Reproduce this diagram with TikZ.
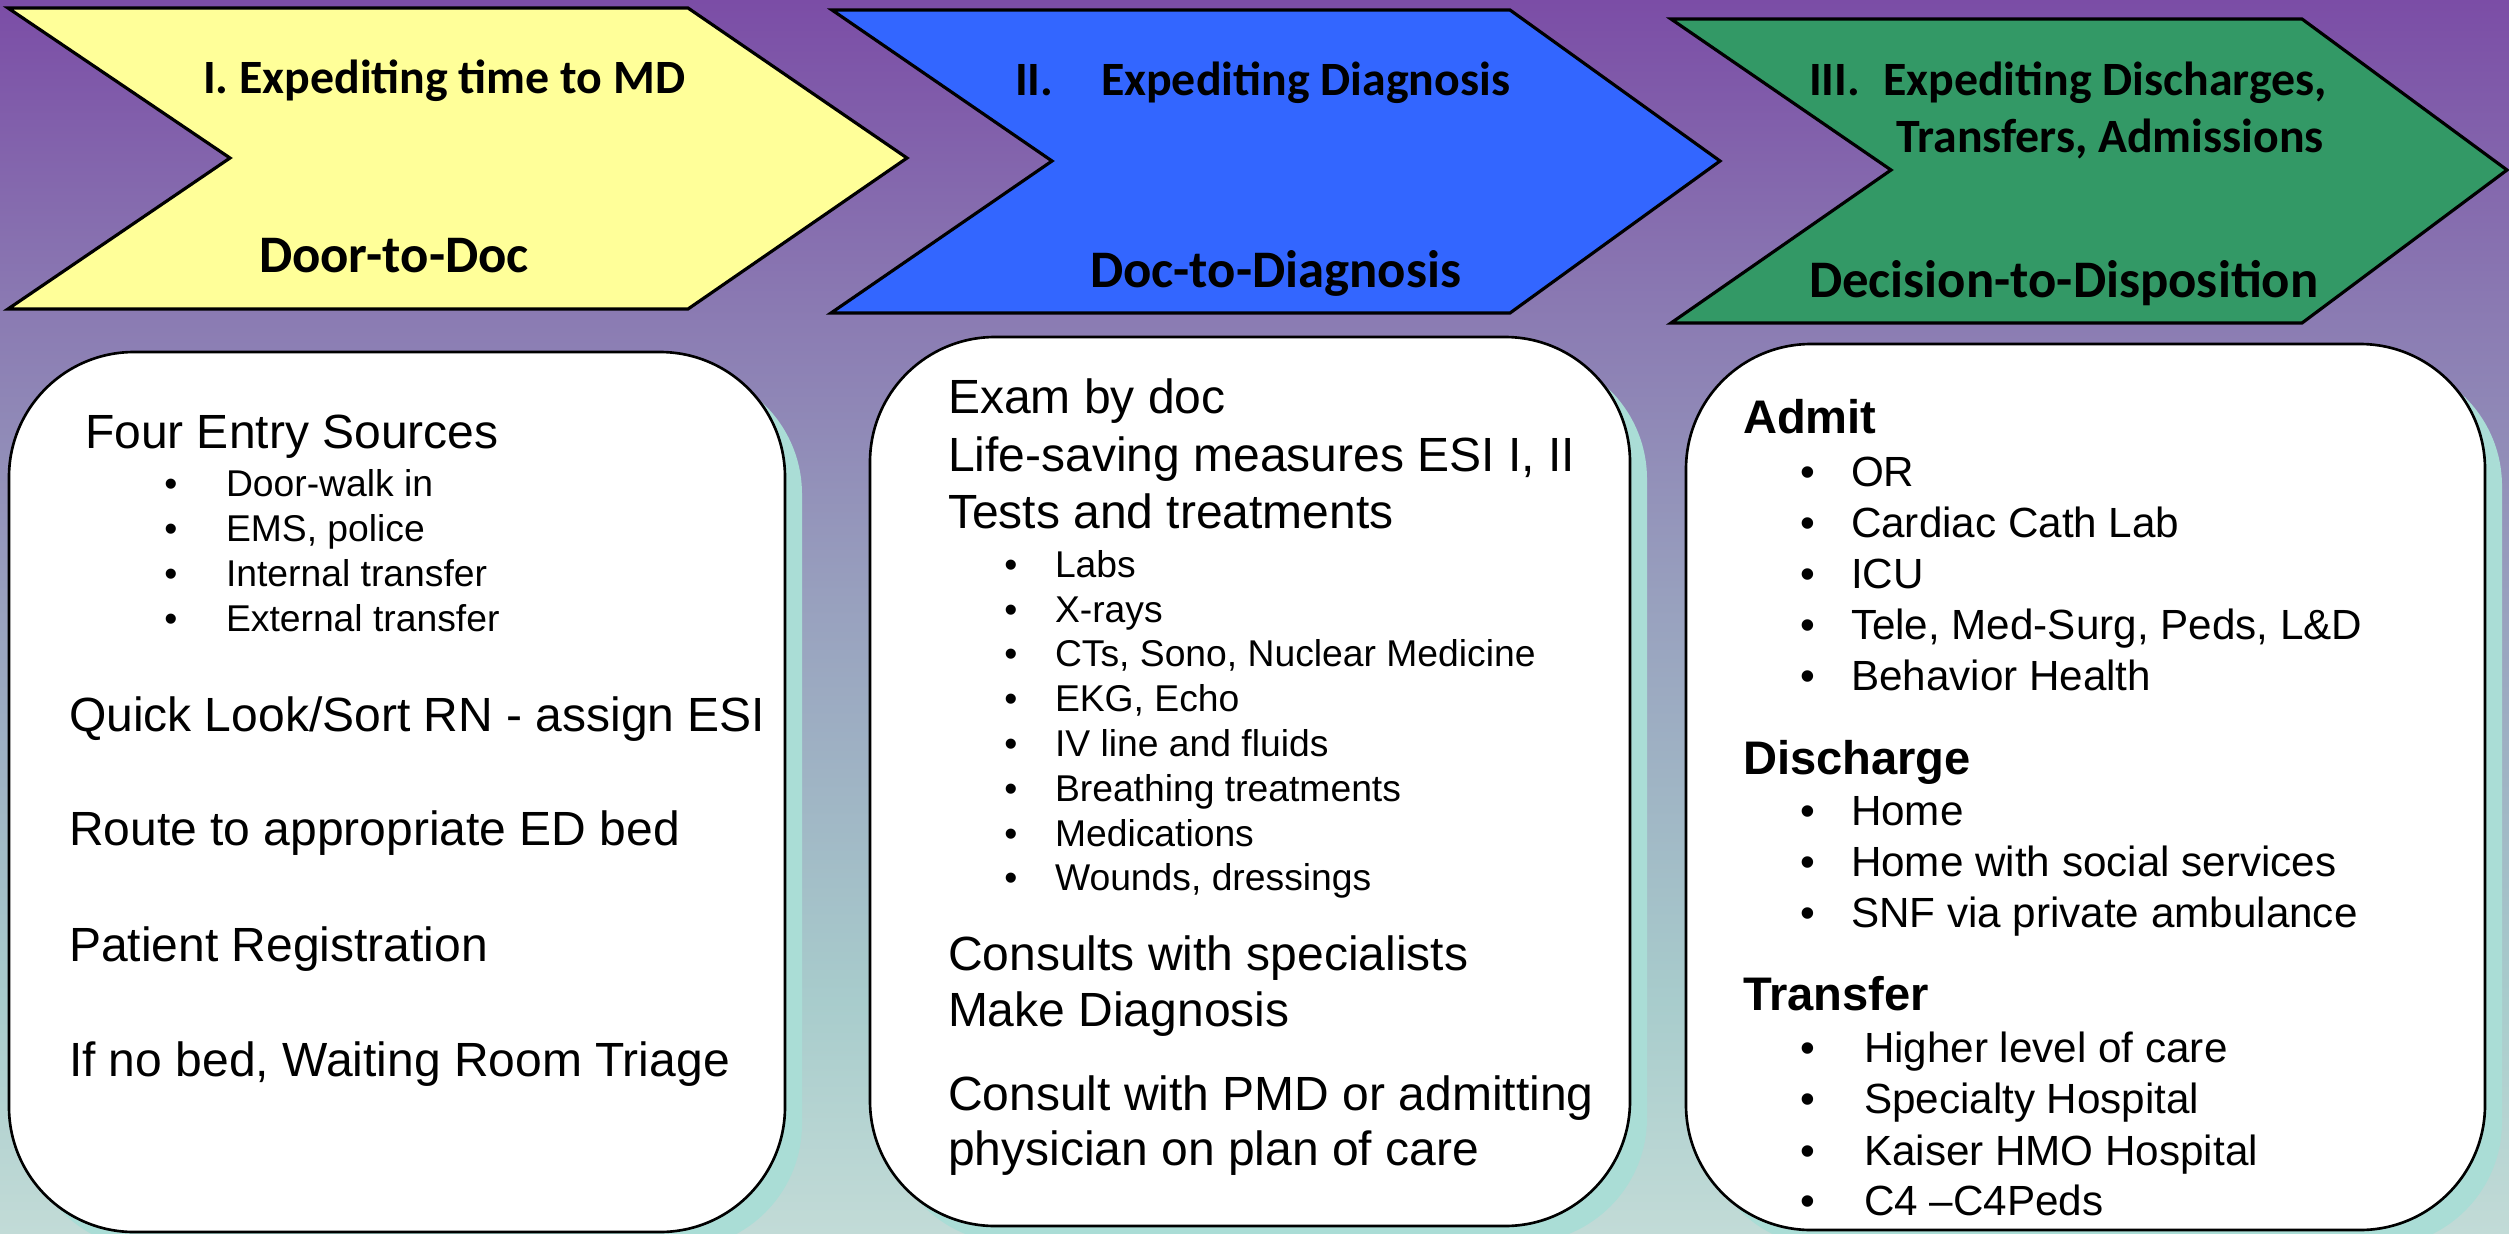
\documentclass[tikz,border=0pt]{standalone}
\usepackage{fontspec}
\setmainfont{Liberation Sans}
\newfontfamily\headfont{Carlito}
\definecolor{bgA}{RGB}{123,77,166}
\definecolor{bgB}{RGB}{138,121,178}
\definecolor{bgC}{RGB}{152,160,190}
\definecolor{bgD}{RGB}{168,204,204}
\definecolor{bgE}{RGB}{194,219,215}
\definecolor{chevYellow}{RGB}{255,255,153}
\definecolor{chevBlue}{RGB}{51,102,255}
\definecolor{chevGreen}{RGB}{51,153,102}
\definecolor{shadowTeal}{RGB}{170,221,214}
\pgfdeclareverticalshading{backdrop}{100bp}{color(0bp)=(bgE); color(25bp)=(bgE); color(34.4bp)=(bgD); color(50.7bp)=(bgC); color(62.8bp)=(bgB); color(75bp)=(bgA); color(100bp)=(bgA)}
\begin{document}
\begin{tikzpicture}[x=0.01cm,y=-0.01cm,
  chev/.style={draw=black, line width=0.9pt, line join=miter},
  panel/.style={draw=black, fill=white, line width=0.75pt, rounded corners=1.25cm},
  panelshadow/.style={fill=shadowTeal, rounded corners=1.25cm},
  txt/.style={anchor=base west, inner sep=0pt, outer sep=0pt},
  maintxt/.style={txt, font=\fontsize{13.65pt}{16.4pt}\selectfont},
  itemtxt/.style={txt, font=\fontsize{10.6pt}{12.7pt}\selectfont},
  itemdot/.style={anchor=base, inner sep=0pt, outer sep=0pt, font=\fontsize{10.6pt}{12.7pt}\selectfont},
  grouptxt/.style={txt, font=\fontsize{13.4pt}{16pt}\selectfont\bfseries},
  listtxt/.style={txt, font=\fontsize{12pt}{14.4pt}\selectfont},
  listdot/.style={anchor=base, inner sep=0pt, outer sep=0pt, font=\fontsize{12pt}{14.4pt}\selectfont},
  chevtitle/.style={txt, font=\headfont\bfseries\fontsize{13.6pt}{16.3pt}\selectfont},
  chevlabel/.style={txt, font=\headfont\bfseries\fontsize{15pt}{18pt}\selectfont}]

\useasboundingbox (0,0) rectangle (2509,1233);
\clip (0,0) rectangle (2509,1233);

% backdrop
\shade[shading=backdrop] (0,0) rectangle (2509,1233);

% stage chevrons
\draw[chev, fill=chevYellow] (8,8) -- (688,8) -- (907,158) -- (688,309) -- (8,309) -- (230,158) -- cycle;
\draw[chev, fill=chevBlue] (832,10) -- (1510,10) -- (1720,161) -- (1510,313) -- (831,313) -- (1052,161) -- cycle;
\draw[chev, fill=chevGreen] (1671,19) -- (2302,19) -- (2507,170) -- (2302,323) -- (1671,323) -- (1891,170) -- cycle;

\node[chevtitle] (h1) at (203,93) {I. Expediting time to MD};
\node[chevlabel] (s1) at (259,272) {Door-to-Doc};
\node[chevtitle] (h2n) at (1015,95) {II.};
\node[chevtitle] (h2) at (1101,95) {Expediting Diagnosis};
\node[chevlabel] (s2) at (1090,287) {Doc-to-Diagnosis};
\node[chevtitle] (h3n) at (1809,95) {III.};
\node[chevtitle] (h3) at (1883,95) {Expediting Discharges,};
\node[chevtitle, anchor=base east] (h3b) at (2324,152) {Transfers, Admissions};
\node[chevlabel] (s3) at (1809,297) {Decision-to-Disposition};

% content panels with offset shadows
\fill[panelshadow] (26,369) rectangle (802,1249);
\fill[panelshadow] (887,354) rectangle (1647,1243);
\fill[panelshadow] (1703,361) rectangle (2502,1247);
\draw[panel] (9,352) rectangle (785,1232);
\draw[panel] (870,337) rectangle (1630,1226);
\draw[panel] (1686,344) rectangle (2485,1230);

% panel I
\node[maintxt] (p1a) at (85,448) {Four Entry Sources};
\foreach \yy/\tt [count=\i] in {496/Door-walk in, 541/{EMS, police}, 586/Internal transfer, 631/External transfer}{
  \node[itemdot] (p1d\i) at (171,\yy) {•};
  \node[itemtxt] (p1i\i) at (226,\yy) {\tt};
}
\node[maintxt] (p1b) at (69,731) {Quick Look/Sort RN - assign ESI};
\node[maintxt] (p1c) at (69,845) {Route to appropriate ED bed};
\node[maintxt] (p1e) at (69,961) {Patient Registration};
\node[maintxt] (p1f) at (69,1076) {If no bed, Waiting Room Triage};

% panel II
\node[maintxt] (p2a) at (948,413) {Exam by doc};
\node[maintxt] (p2b) at (948,471) {Life-saving measures ESI I, II};
\node[maintxt] (p2c) at (948,528) {Tests and treatments};
\foreach \yy/\tt [count=\i] in {577/Labs, 622/X-rays, 666/{CTs, Sono, Nuclear Medicine}, 711/{EKG, Echo}, 756/IV line and fluids, 801/Breathing treatments, 846/Medications, 890/{Wounds, dressings}}{
  \node[itemdot] (p2d\i) at (1011,\yy) {•};
  \node[itemtxt] (p2i\i) at (1055,\yy) {\tt};
}
\node[maintxt] (p2e) at (948,970) {Consults with specialists};
\node[maintxt] (p2f) at (948,1026) {Make Diagnosis};
\node[maintxt] (p2g) at (948,1110) {Consult with PMD or admitting};
\node[maintxt] (p2h) at (948,1165) {physician on plan of care};

% panel III
\node[grouptxt] (p3a) at (1743,433) {Admit};
\foreach \yy/\tt [count=\i] in {486/OR, 537/Cardiac Cath Lab, 588/ICU, 639/{Tele, Med-Surg, Peds, L\&D}, 690/Behavior Health}{
  \node[listdot] (p3ad\i) at (1808,\yy) {•};
  \node[listtxt] (p3ai\i) at (1851,\yy) {\tt};
}
\node[grouptxt] (p3b) at (1743,774) {Discharge};
\foreach \yy/\tt [count=\i] in {825/Home, 876/Home with social services, 927/SNF via private ambulance}{
  \node[listdot] (p3bd\i) at (1808,\yy) {•};
  \node[listtxt] (p3bi\i) at (1851,\yy) {\tt};
}
\node[grouptxt] (p3c) at (1743,1010) {Transfer};
\foreach \yy/\tt [count=\i] in {1062/Higher level of care, 1113/Specialty Hospital, 1165/Kaiser HMO Hospital, 1215/C4 –C4Peds}{
  \node[listdot] (p3cd\i) at (1808,\yy) {•};
  \node[listtxt] (p3ci\i) at (1864,\yy) {\tt};
}
\end{tikzpicture}
\end{document}
